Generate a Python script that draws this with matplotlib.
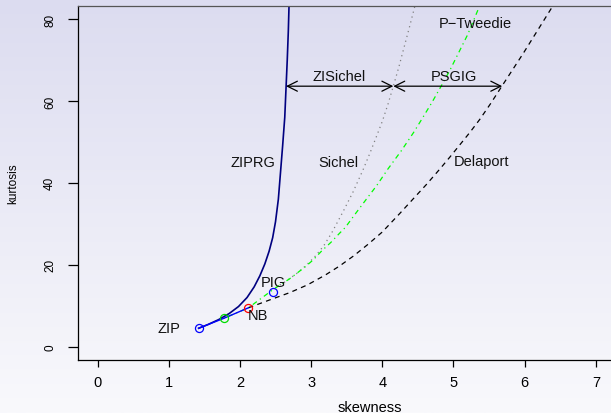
import numpy as np
import matplotlib
matplotlib.use("Agg")
import matplotlib.pyplot as plt

plt.rcParams['font.family'] = ['Liberation Sans', 'DejaVu Sans']

# curves (skewness, kurtosis)
ziprg_skew = [1.42, 1.55, 1.70, 1.85, 1.98, 2.10, 2.20, 2.28, 2.35, 2.41, 2.46, 2.50, 2.54, 2.57, 2.60, 2.63, 2.645, 2.665, 2.68, 2.69]
ziprg_kurt = [4.5, 5.4, 6.6, 8.1, 9.8, 12.0, 14.6, 17.3, 20.2, 23.3, 26.6, 30.5, 36.0, 42.5, 49.0, 56.0, 62.0, 70.0, 77.0, 83.3]

sichel_skew = [2.50, 2.65, 2.80, 2.94, 3.07, 3.18, 3.29, 3.45, 3.59, 3.73, 3.83, 3.92, 4.00, 4.08, 4.155, 4.23, 4.30, 4.38, 4.46]
sichel_kurt = [14.4, 16.0, 17.9, 20.0, 22.3, 24.7, 27.8, 33.0, 37.8, 43.2, 47.4, 51.4, 55.0, 59.2, 63.6, 68.1, 72.7, 77.9, 83.3]

tweedie_skew = [1.77, 2.12, 2.47, 2.70, 2.91, 3.03, 3.15, 3.28, 3.40, 3.48, 3.62, 3.78, 3.92, 4.08, 4.27, 4.44, 4.55, 4.70, 4.83, 4.95, 5.20, 5.37]
tweedie_kurt = [6.9, 9.5, 14.0, 16.6, 19.4, 21.2, 23.4, 25.5, 27.7, 29.1, 32.4, 36.1, 39.3, 43.4, 47.9, 52.3, 55.4, 59.7, 63.7, 67.5, 76.2, 83.3]

delap_skew = [2.12, 2.40, 2.70, 2.95, 3.20, 3.40, 3.60, 3.80, 4.00, 4.25, 4.44, 4.62, 4.81, 4.95, 5.09, 5.23, 5.37, 5.52, 5.68, 5.83, 5.98, 6.12, 6.26, 6.40]
delap_kurt = [9.5, 11.3, 13.2, 15.1, 17.5, 19.7, 22.2, 25.0, 28.0, 32.6, 36.2, 39.6, 43.4, 46.3, 49.3, 52.3, 55.5, 59.3, 63.6, 67.6, 71.6, 75.5, 79.4, 83.3]

zinb_skew = [1.42, 1.77, 2.12]
zinb_kurt = [4.5, 6.9, 9.5]

# special points
pt_skew = [1.42, 1.77, 2.12, 2.47]
pt_kurt = [4.5, 6.9, 9.5, 13.3]
pt_cols = ['blue', '#00dd00', 'red', 'blue']

# region labels
lab_text = ['ZIP', 'NB', 'PIG', 'ZIPRG', 'Sichel', 'Delaport', 'ZISichel', 'PSGIG', 'P\u2212Tweedie']
lab_x = [1.00, 2.25, 2.47, 2.19, 3.39, 5.39, 3.40, 5.00, 5.31]
lab_y = [4.5, 7.8, 15.9, 45.0, 45.0, 45.3, 66.2, 66.2, 79.0]

# double arrows at kurtosis 63.6
arr_y = 63.6
arr_x = [2.647, 4.155, 5.685]

fig = plt.figure(figsize=(6.11, 4.14), dpi=100)

# background gradient
bg = fig.add_axes([0, 0, 1, 1])
top = np.array([220, 220, 240]) / 255
bot = np.array([249, 249, 252]) / 255
t = np.linspace(0, 1, 256)[:, None]
grad = (top * (1 - t) + bot * t)[:, None, :]
bg.imshow(grad, aspect='auto', extent=[0, 1, 0, 1])
bg.axis('off')

ax = fig.add_axes([0.1282, 0.1285, 0.9553, 0.8553])
ax.set_facecolor('none')

ax.plot(ziprg_skew, ziprg_kurt, color='#000080', lw=1.2)
ax.plot(sichel_skew, sichel_kurt, color='#808080', lw=0.9, dashes=(1, 3))
ax.plot(tweedie_skew, tweedie_kurt, color='#00ff00', lw=0.9, dashes=(1, 3, 4, 3))
ax.plot(delap_skew, delap_kurt, color='black', lw=0.9, dashes=(4, 3.5))
ax.plot(zinb_skew, zinb_kurt, color='blue', lw=1.0)
for x, y, c in zip(pt_skew, pt_kurt, pt_cols):
    ax.plot(x, y, 'o', mfc='none', mec=c, ms=5.8, mew=0.9)

for s, x, y in zip(lab_text, lab_x, lab_y):
    ax.text(x, y, s, ha='center', va='center', fontsize=10.5, color='#111111')

for x0, x1 in zip(arr_x[:-1], arr_x[1:]):
    ax.annotate('', xy=(x1, arr_y), xytext=(x0, arr_y),
                arrowprops=dict(arrowstyle='<->,head_length=0.72,head_width=0.36',
                                mutation_scale=10, shrinkA=0, shrinkB=0,
                                lw=0.9, color='black'))

ax.set_xlim(-0.27, 7.93)
ax.set_ylim(-3.2, 83.25)
ax.set_xticks(range(0, 8))
ax.set_yticks(range(0, 81, 20))
ax.tick_params(axis='x', length=5, width=0.9, pad=6, labelsize=10.5)
ax.tick_params(axis='y', length=7, width=0.9, pad=9, labelsize=8.5, labelrotation=90)
for lbl in ax.get_yticklabels():
    lbl.set_va('center')
for sp in ax.spines.values():
    sp.set_linewidth(0.9)
ax.spines['top'].set_color('#555555')

ax.set_xlabel('skewness', fontsize=10.5, labelpad=8)
ax.set_ylabel('kurtosis', fontsize=8.5, labelpad=18)

fig.savefig('out.png', dpi=100)
